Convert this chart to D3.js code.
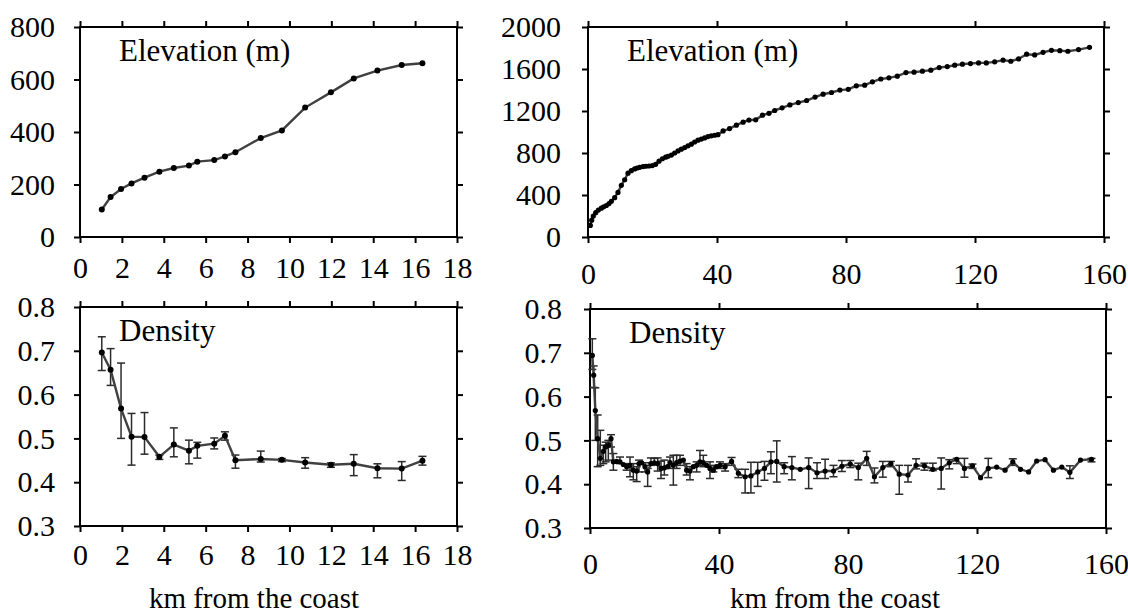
<!DOCTYPE html>
<html>
<head>
<meta charset="utf-8">
<script src="https://cdn.jsdelivr.net/npm/d3@7"></script>
<style>
  body { margin: 0; background: #fff; }
</style>
</head>
<body>
<svg id="chart" width="1128" height="614"></svg>
<script>
// ---- data ----
// left transect (0-18 km)
var leftKm = [1.04, 1.46, 1.96, 2.46, 3.08, 3.79, 4.48, 5.2, 5.6, 6.41, 6.92, 7.42, 8.63, 9.64, 10.75, 11.98, 13.07, 14.2, 15.36, 16.35];
var leftElev = [105, 152, 183, 204, 226, 249, 263, 272, 287, 293, 307, 323, 377, 406, 493, 551, 604, 634, 655, 662];
var leftDens = [0.696, 0.657, 0.568, 0.504, 0.503, 0.458, 0.486, 0.472, 0.483, 0.488, 0.506, 0.45, 0.453, 0.451, 0.445, 0.44, 0.442, 0.432, 0.431, 0.449];
var leftDensHi = [0.732, 0.705, 0.672, 0.557, 0.559, 0.462, 0.524, 0.496, 0.491, 0.501, 0.515, 0.462, 0.471, 0.454, 0.456, 0.444, 0.463, 0.442, 0.447, 0.459];
var leftDensLo = [0.655, 0.621, 0.5, 0.439, 0.464, 0.452, 0.458, 0.442, 0.455, 0.476, 0.496, 0.432, 0.446, 0.447, 0.432, 0.434, 0.415, 0.41, 0.404, 0.439];

// right transect (0-160 km)
var rightKm = [0.72, 1.14, 1.65, 2.38, 3.2, 4.13, 4.86, 5.68, 6.51, 7.24, 8.27, 9.3, 10.34, 11.37, 12.4, 13.44, 14.47, 15.2, 16.02, 17.05,
  17.88, 18.9, 19.95, 20.98, 22.02, 23.05, 24.08, 24.8, 25.84, 26.87, 27.91, 28.94, 29.97, 31.0, 32.04, 33.07, 34.1, 35.14, 36.17, 37.2,
  38.24, 39.27, 40.3, 41.9, 43.9, 46.0, 48.1, 49.9, 52.0, 54.1, 56.1, 57.9, 60.2, 62.6, 65.2, 67.8, 70.4, 72.9, 75.5, 78.1,
  80.7, 83.2, 85.8, 88.2, 90.8, 93.3, 95.9, 98.6, 101.1, 103.7, 106.3, 108.9, 111.4, 113.7, 116.1, 118.6, 121.1, 123.5, 126.1, 128.7,
  131.1, 133.5, 136.0, 138.5, 141.1, 143.7, 146.3, 148.8, 152.1, 155.5];
var rightElev = [110, 160, 200, 232, 256, 275, 288, 300, 318, 340, 375, 425, 492, 545, 608, 632, 648, 657, 664, 671,
  674, 676, 680, 692, 722, 745, 760, 768, 780, 800, 820, 836, 852, 868, 884, 905, 922, 933, 944, 956,
  964, 969, 975, 1010, 1033, 1065, 1094, 1114, 1116, 1160, 1178, 1205, 1230, 1258, 1280, 1300, 1333, 1360, 1376, 1399,
  1406, 1440, 1446, 1478, 1505, 1516, 1532, 1566, 1570, 1579, 1589, 1614, 1623, 1636, 1646, 1652, 1658, 1658, 1668, 1684,
  1674, 1696, 1741, 1734, 1759, 1778, 1775, 1769, 1785, 1806];
var rightDens = [0.694, 0.649, 0.568, 0.504, 0.459, 0.475, 0.485, 0.489, 0.504, 0.451, 0.452, 0.451, 0.445, 0.44, 0.443, 0.432, 0.43, 0.447, 0.449, 0.44,
  0.428, 0.447, 0.449, 0.447, 0.436, 0.4375, 0.44, 0.4495, 0.443, 0.4495, 0.4525, 0.455, 0.432, 0.43, 0.44, 0.443, 0.451, 0.4495, 0.443, 0.436,
  0.432, 0.44, 0.443, 0.44, 0.452, 0.425, 0.417, 0.419, 0.428, 0.436, 0.451, 0.452, 0.44, 0.438, 0.434, 0.438, 0.426, 0.43, 0.43, 0.441,
  0.446, 0.438, 0.459, 0.417, 0.438, 0.447, 0.423, 0.421, 0.443, 0.442, 0.434, 0.436, 0.449, 0.457, 0.436, 0.442, 0.415, 0.436, 0.439, 0.432,
  0.451, 0.434, 0.428, 0.453, 0.456, 0.432, 0.439, 0.427, 0.455, 0.457];
var rightDensHi = [0.732, 0.67, 0.62, 0.558, 0.523, 0.489, 0.496, 0.5, 0.513, 0.47, null, 0.462, null, 0.447, 0.462, 0.447, 0.44, 0.455, null, 0.449,
  0.436, 0.46, 0.459, 0.46, 0.4525, 0.455, null, 0.462, 0.466, 0.466, 0.466, null, 0.447, 0.44, null, 0.451, 0.477, 0.466, null, 0.451,
  0.443, null, 0.451, 0.447, 0.461, 0.434, 0.434, 0.45, 0.45, 0.452, 0.474, 0.499, 0.449, 0.463, null, 0.46, 0.449, 0.457, 0.443, 0.454,
  0.454, 0.448, 0.475, 0.437, 0.452, 0.452, 0.443, 0.443, 0.458, 0.448, 0.448, 0.46, 0.456, 0.459, 0.459, 0.446, null, 0.459, null, null,
  0.458, null, null, null, null, null, null, 0.442, null, 0.459];
var rightDensLo = [0.662, 0.621, 0.5, 0.44, 0.443, 0.447, 0.451, 0.455, 0.485, 0.432, null, 0.447, null, 0.432, 0.417, 0.41, 0.406, 0.428, null, 0.428,
  0.395, 0.443, 0.444, 0.43, 0.413, 0.421, null, 0.436, 0.398, 0.436, 0.443, null, 0.421, 0.41, null, 0.428, 0.443, 0.44, null, 0.413,
  0.428, null, 0.436, 0.43, 0.443, 0.415, 0.38, 0.38, 0.395, 0.409, 0.424, 0.405, 0.424, 0.41, null, 0.39, 0.413, 0.413, 0.417, 0.429,
  0.438, 0.41, 0.443, 0.403, 0.416, 0.44, 0.377, 0.405, 0.435, 0.432, 0.431, 0.389, 0.435, 0.447, 0.416, 0.436, null, 0.415, null, null,
  0.443, null, null, null, null, null, null, 0.413, null, 0.451];

var leftXTicks = [0, 2, 4, 6, 8, 10, 12, 14, 16, 18];
var rightXTicks = [0, 40, 80, 120, 160];
var leftElevTicks = [0, 200, 400, 600, 800];
var rightElevTicks = [0, 400, 800, 1200, 1600, 2000];
var densTicks = [0.3, 0.4, 0.5, 0.6, 0.7, 0.8];

var FONT = '"Liberation Serif", "Times New Roman", Times, serif';
var svg = d3.select("#chart");

var panels = [
  {x0: 80, x1: 457, y0: 237, y1: 27, xd: [0, 18], yd: [0, 800], xt: leftXTicks, yt: leftElevTicks,
   fy: d3.format("d"), xs: leftKm, ys: leftElev, pad: 14, ypad: 19, label: "Elevation (m)", r: 3},
  {x0: 588, x1: 1104, y0: 237, y1: 27, xd: [0, 160], yd: [0, 2000], xt: rightXTicks, yt: rightElevTicks,
   fy: d3.format("d"), xs: rightKm, ys: rightElev, pad: 20, ypad: 21, label: "Elevation (m)", r: 2.6},
  {x0: 80, x1: 457, y0: 526, y1: 307, xd: [0, 18], yd: [0.3, 0.8], xt: leftXTicks, yt: densTicks,
   fy: d3.format(".1f"), xs: leftKm, ys: leftDens, hi: leftDensHi, lo: leftDensLo, pad: 12, ypad: 19, label: "Density", r: 3,
   title: {x: 254}},
  {x0: 590, x1: 1106, y0: 528, y1: 309, xd: [0, 160], yd: [0.3, 0.8], xt: rightXTicks, yt: densTicks,
   fy: d3.format(".1f"), xs: rightKm, ys: rightDens, hi: rightDensHi, lo: rightDensLo, pad: 19, ypad: 22, label: "Density", r: 2.6,
   title: {x: 835}}
];

panels.forEach(function(p){
  var x = d3.scaleLinear().domain(p.xd).range([p.x0, p.x1]);
  var y = d3.scaleLinear().domain(p.yd).range([p.y0, p.y1]);
  var g = svg.append("g");

  // bottom axis with labels, other three sides ticks only
  g.append("g").attr("transform", "translate(0," + p.y0 + ")")
    .call(d3.axisBottom(x).tickValues(p.xt).tickSize(6).tickSizeOuter(0).tickPadding(p.pad).tickFormat(d3.format("d")));
  g.append("g").attr("transform", "translate(0," + p.y1 + ")")
    .call(d3.axisTop(x).tickValues(p.xt).tickSize(6).tickSizeOuter(0).tickFormat(""));
  g.append("g").attr("transform", "translate(" + p.x0 + ",0)")
    .call(d3.axisLeft(y).tickValues(p.yt).tickSize(6).tickSizeOuter(0).tickPadding(p.ypad).tickFormat(p.fy));
  g.append("g").attr("transform", "translate(" + p.x1 + ",0)")
    .call(d3.axisRight(y).tickValues(p.yt).tickSize(6).tickSizeOuter(0).tickFormat(""));

  g.selectAll(".domain").remove();
  g.selectAll(".tick line").attr("stroke", "#000").attr("stroke-width", 2);
  g.selectAll(".tick text")
    .style("font-family", FONT)
    .style("font-size", "30px")
    .attr("fill", "#000");

  g.append("rect")
    .attr("x", p.x0).attr("y", p.y1)
    .attr("width", p.x1 - p.x0).attr("height", p.y0 - p.y1)
    .attr("fill", "none").attr("stroke", "#000").attr("stroke-width", 2);

  // panel label
  g.append("text")
    .attr("x", p.x0 + 39).attr("y", p.y1 + 34)
    .style("font-family", FONT)
    .style("font-size", "31px")
    .text(p.label);

  var pts = p.xs.map(function(d, i){ return {x: d, y: p.ys[i], hi: p.hi ? p.hi[i] : null, lo: p.lo ? p.lo[i] : null}; });

  // error bars
  if (p.hi) {
    var eb = g.append("g").attr("stroke", "#2b2b2b").attr("stroke-width", 1.5).attr("fill", "none");
    pts.filter(function(d){ return d.hi !== null; }).forEach(function(d){
      var cx = x(d.x);
      eb.append("line").attr("x1", cx).attr("x2", cx).attr("y1", y(d.hi)).attr("y2", y(d.lo));
      eb.append("line").attr("x1", cx - 4).attr("x2", cx + 4).attr("y1", y(d.hi)).attr("y2", y(d.hi));
      eb.append("line").attr("x1", cx - 4).attr("x2", cx + 4).attr("y1", y(d.lo)).attr("y2", y(d.lo));
    });
  }

  g.append("path")
    .datum(pts)
    .attr("fill", "none")
    .attr("stroke", "#404040")
    .attr("stroke-width", 2.4)
    .attr("d", d3.line().x(function(d){ return x(d.x); }).y(function(d){ return y(d.y); }));

  g.selectAll("circle.pt").data(pts).enter().append("circle")
    .attr("class", "pt")
    .attr("cx", function(d){ return x(d.x); })
    .attr("cy", function(d){ return y(d.y); })
    .attr("r", p.r)
    .attr("fill", "#000");

  if (p.title) {
    g.append("text")
      .attr("x", p.title.x).attr("y", 608)
      .attr("text-anchor", "middle")
      .style("font-family", FONT)
      .style("font-size", "29px")
      .text("km from the coast");
  }
});
</script>
</body>
</html>
